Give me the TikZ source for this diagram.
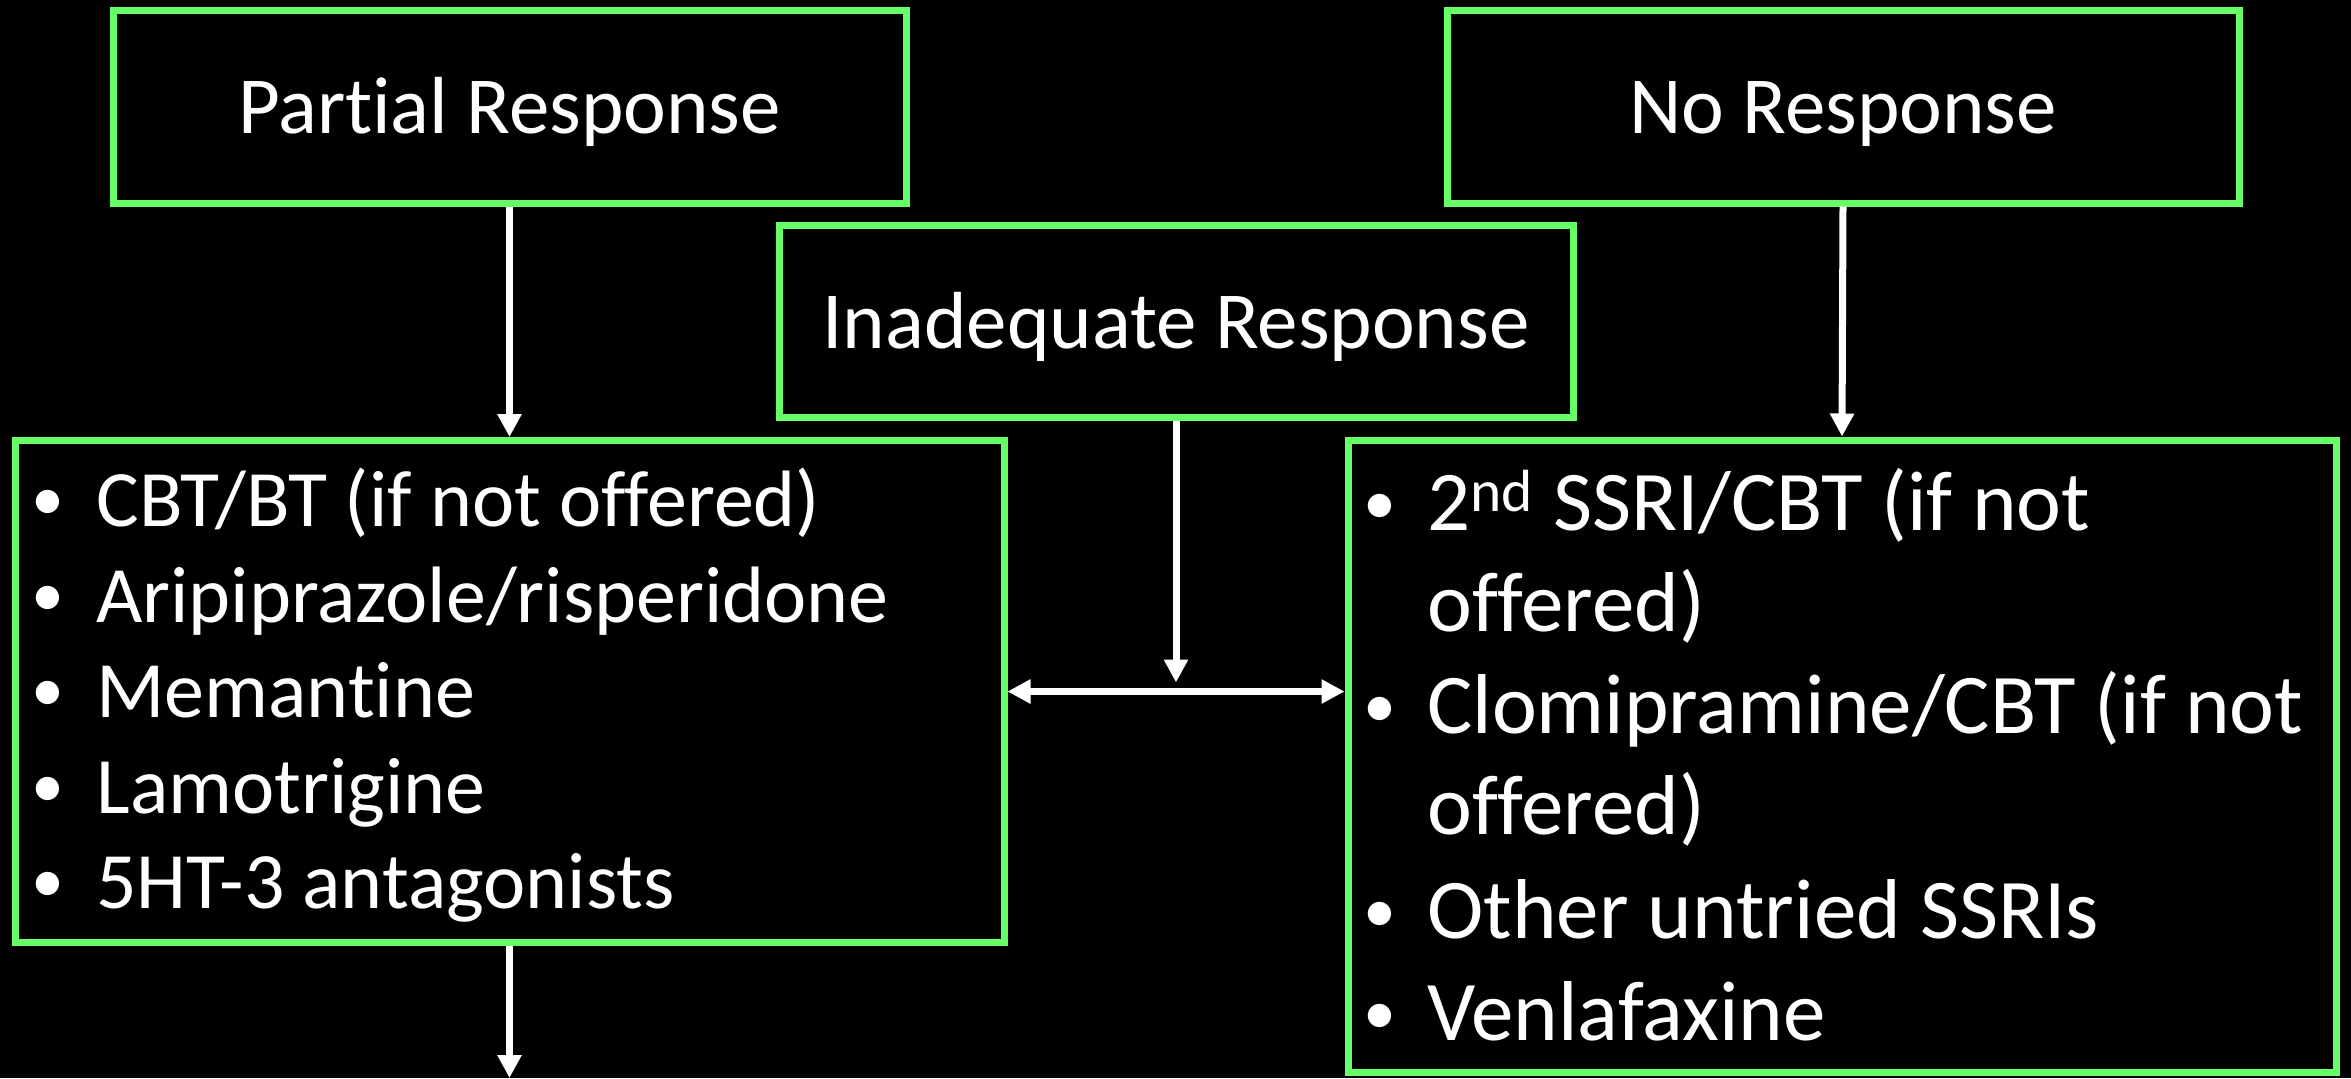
\documentclass[tikz,border=0pt]{standalone}
\usepackage{fontspec}
\setmainfont{Carlito}[Ligatures={NoCommon}]
\usetikzlibrary{arrows.meta,calc}
\definecolor{boxgreen}{RGB}{102,255,102}
\tikzset{
  box/.style={draw=boxgreen, line width=3.5pt, fill=black, rectangle, inner sep=0pt},
  ttl/.style={text=white, anchor=base, inner sep=0pt, font=\fontsize{40.5}{48}\selectfont},
  litem/.style={text=white, anchor=base west, inner sep=0pt, font=\fontsize{40}{47}\selectfont},
  ritem/.style={text=white, anchor=base west, inner sep=0pt, font=\fontsize{42.5}{50}\selectfont},
  bul/.style={text=white, anchor=base, inner sep=0pt, font=\fontsize{33}{40}\selectfont},
  conn/.style={draw=white, line width=3.5pt, -{Triangle[width=11.5pt,length=11.5pt]}},
  dconn/.style={draw=white, line width=3.5pt, {Triangle[width=11.5pt,length=11.5pt]}-{Triangle[width=11.5pt,length=11.5pt]}}
}
\newcommand{\bl}{\raisebox{3pt}{•}}
\begin{document}
\begin{tikzpicture}[x=0.5pt,y=-0.5pt]
\fill[black] (0,0) rectangle (2351,1078);
\useasboundingbox (0,0) rectangle (2351,1078);
% boxes
\node[box, minimum width=396.5pt, minimum height=96.5pt] (pr) at (509.5,106.5) {};
\node[box, minimum width=396pt, minimum height=96.5pt] (nr) at (1843,106.5) {};
\node[box, minimum width=397pt, minimum height=96pt] (ir) at (1176,321) {};
\node[box, minimum width=494.5pt, minimum height=251pt] (lb) at (509.5,691.5) {};
\node[box, minimum width=494pt, minimum height=316pt] (rb) at (1842,756) {};
% titles
\node[ttl] (prt) at (509.5,133) {Partial Response};
\node[ttl] (nrt) at (1843,133) {No Response};
\node[ttl] (irt) at (1176,348) {Inadequate Response};
% left list
\node[bul] (lb1) at (48,526) {\bl};
\node[bul] (lb2) at (48,622) {\bl};
\node[bul] (lb3) at (48,717) {\bl};
\node[bul] (lb4) at (48,813) {\bl};
\node[bul] (lb5) at (48,908) {\bl};
\node[litem] (li1) at (96,526) {CBT/BT (if not offered)};
\node[litem] (li2) at (96,622) {Aripiprazole/risperidone};
\node[litem] (li3) at (96,717) {Memantine};
\node[litem] (li4) at (96,813) {Lamotrigine};
\node[litem] (li5) at (96,908) {5HT-3 antagonists};
% right list
\node[bul] (rb1) at (1380,530) {\bl};
\node[bul] (rb2) at (1380,733) {\bl};
\node[bul] (rb3) at (1380,938) {\bl};
\node[bul] (rb4) at (1380,1040) {\bl};
\node[ritem] (ri1) at (1427,530) {2\textsuperscript{nd} SSRI/CBT (if not};
\node[ritem] (ri1b) at (1427,631) {offered)};
\node[ritem] (ri2) at (1427,733) {Clomipramine/CBT (if not};
\node[ritem] (ri2b) at (1427,834) {offered)};
\node[ritem] (ri3) at (1427,938) {Other untried SSRIs};
\node[ritem] (ri4) at (1427,1040) {Venlafaxine};
% connectors
\coordinate (rw) at (lb.east -| rb.west);
\coordinate (mid) at ($(lb.east)!0.5!(rw)$);
\coordinate (out) at (509.5,1078);
\draw[conn] (pr.south) -- (lb.north);
\draw[conn] (nr.south) -- (rb.north);
\draw[dconn] (lb.east) -- (rw);
\draw[conn, shorten >=4.5pt] (ir.south) -- (ir.south |- mid);
\draw[conn] (lb.south) -- (out);
\end{tikzpicture}
\end{document}
